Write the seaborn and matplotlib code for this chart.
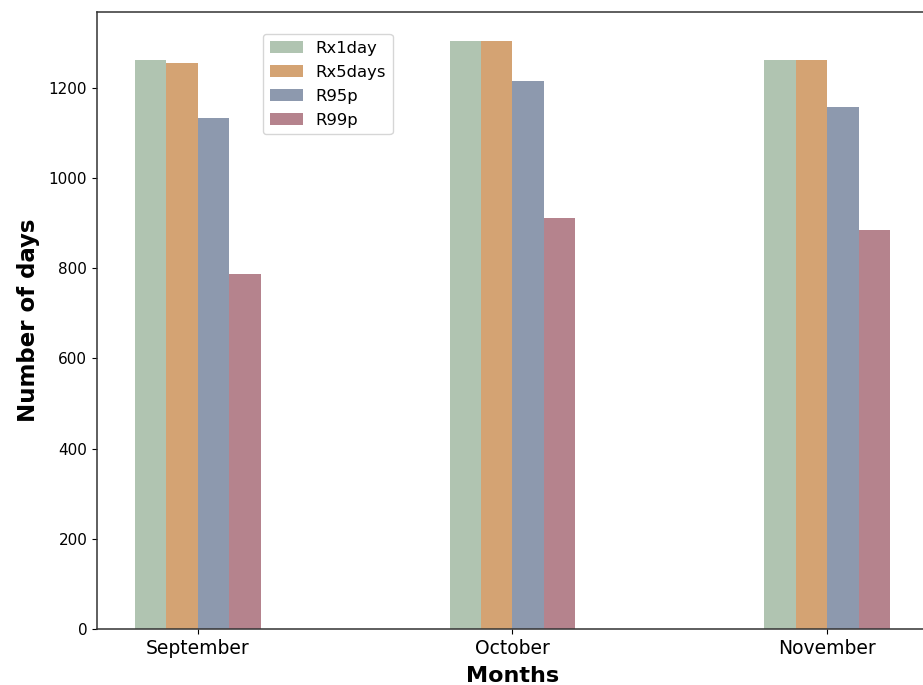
import matplotlib
matplotlib.use("Agg")
import matplotlib.pyplot as plt
import seaborn as sns
import pandas as pd

# Extreme-precipitation index counts per month
months = ["September", "October", "November"]
indices = ["Rx1day", "Rx5days", "R95p", "R99p"]
rx1day = [1261, 1303, 1261]
rx5days = [1256, 1303, 1261]
r95p = [1133, 1216, 1157]
r99p = [787, 911, 884]
colors = ["#b0c4b1", "#d4a373", "#8d99ae", "#b5838d"]

df = pd.DataFrame({
    "Month": months * 4,
    "Index": [i for i in indices for _ in months],
    "Days": rx1day + rx5days + r95p + r99p,
})

fig = plt.figure(figsize=(9.23, 6.85), dpi=100)
ax = fig.add_axes([0.1051, 0.0818, 0.9003, 0.9007])

sns.barplot(data=df, x="Month", y="Days", hue="Index", hue_order=indices,
            order=months, palette=colors, width=0.4, saturation=1,
            errorbar=None, linewidth=0, ax=ax)

ax.set_xlim(-0.32, 2.32)
ax.set_ylim(0, 1368)
ax.set_yticks([0, 200, 400, 600, 800, 1000, 1200])

ax.set_xlabel("Months", fontsize=16, fontweight="bold", labelpad=6)
ax.set_ylabel("Number of days", fontsize=16.5, fontweight="bold", labelpad=6)
ax.tick_params(axis="x", labelsize=13.5)
ax.tick_params(axis="y", labelsize=11)

for side in ["left", "bottom", "top", "right"]:
    ax.spines[side].set_color("#333333")
    ax.spines[side].set_linewidth(1.1)

ax.legend(loc="upper left", bbox_to_anchor=(0.2, 0.964), borderaxespad=0,
          fontsize=11.8, labelspacing=0.55, title=None, frameon=True)

fig.savefig("out.png", dpi=100)
